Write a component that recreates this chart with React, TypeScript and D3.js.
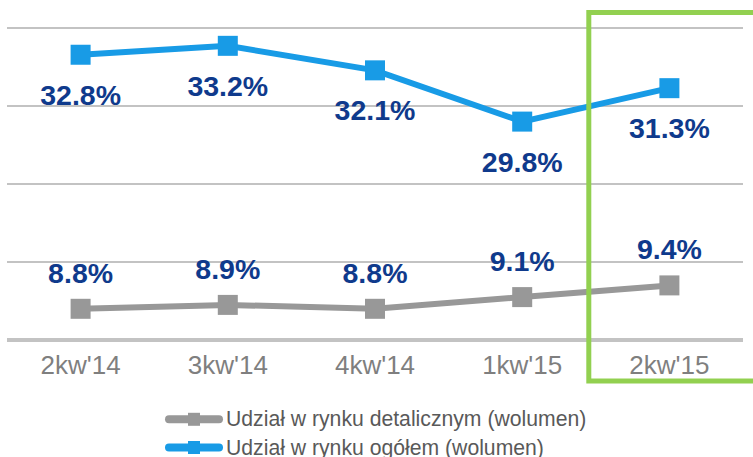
import React from "react";
import * as d3 from "d3";

const categories = ["2kw'14", "3kw'14", "4kw'14", "1kw'15", "2kw'15"];
const retailShare = [8.8, 8.9, 8.8, 9.1, 9.4];
const totalShare = [32.8, 33.2, 32.1, 29.8, 31.3];
const retailLabels = ["8.8%", "8.9%", "8.8%", "9.1%", "9.4%"];
const totalLabels = ["32.8%", "33.2%", "32.1%", "29.8%", "31.3%"];
const legendNames = [
  "Udział w rynku detalicznym (wolumen)",
  "Udział w rynku ogółem (wolumen)",
];
const highlighted = "2kw'15";

const W = 753;
const H = 457;
const FONT = "'Liberation Sans', Arial, sans-serif";
const BLUE = "#189be6";
const GRAY = "#989898";
const NAVY = "#0f3a8c";
const GREEN = "#92d050";

export default function App() {
  const x = d3.scaleBand<string>().domain(categories).range([7, 743]);
  const cx = (c: string) => (x(c) as number) + x.bandwidth() / 2;
  const yRetail = d3.scaleLinear().domain([8, 16]).range([340, 28]);
  const yTotal = d3.scaleLinear().domain([20, 34]).range([340, 28]);
  const grid = yRetail.ticks(4);

  const lineRetail = d3
    .line<number>()
    .x((_, i) => cx(categories[i]))
    .y((d) => yRetail(d));
  const lineTotal = d3
    .line<number>()
    .x((_, i) => cx(categories[i]))
    .y((d) => yTotal(d));

  const M = 20;
  const hx = x(highlighted) as number;

  return (
    <svg
      width={W}
      height={H}
      style={{ position: "absolute", left: 0, top: 0, background: "#fff" }}
      fontFamily={FONT}
    >
      {grid.map((t) => (
        <line
          key={t}
          x1={7}
          x2={743}
          y1={yRetail(t)}
          y2={yRetail(t)}
          stroke="#c3c3c3"
          strokeWidth={t === 8 ? 4 : 2}
        />
      ))}

      {categories.map((c) => (
        <text
          key={c}
          x={cx(c)}
          y={374}
          textAnchor="middle"
          fontSize={26}
          fill="#7f7f7f"
        >
          {c}
        </text>
      ))}

      <path d={lineRetail(retailShare) || ""} fill="none" stroke={GRAY} strokeWidth={6} />
      {retailShare.map((v, i) => (
        <rect
          key={i}
          x={cx(categories[i]) - M / 2}
          y={yRetail(v) - M / 2}
          width={M}
          height={M}
          fill={GRAY}
        />
      ))}
      <path d={lineTotal(totalShare) || ""} fill="none" stroke={BLUE} strokeWidth={6} />
      {totalShare.map((v, i) => (
        <rect
          key={i}
          x={cx(categories[i]) - M / 2}
          y={yTotal(v) - M / 2}
          width={M}
          height={M}
          fill={BLUE}
        />
      ))}

      {retailShare.map((v, i) => (
        <text
          key={i}
          x={cx(categories[i])}
          y={yRetail(v) - 26}
          textAnchor="middle"
          fontSize={28.5}
          fontWeight="bold"
          fill={NAVY}
        >
          {retailLabels[i]}
        </text>
      ))}
      {totalShare.map((v, i) => (
        <text
          key={i}
          x={cx(categories[i])}
          y={yTotal(v) + 50}
          textAnchor="middle"
          fontSize={28.5}
          fontWeight="bold"
          fill={NAVY}
        >
          {totalLabels[i]}
        </text>
      ))}

      <rect
        x={hx - 7}
        y={12.5}
        width={200}
        height={368.5}
        fill="none"
        stroke={GREEN}
        strokeWidth={5}
      />

      {legendNames.map((name, i) => {
        const ly = 419.3 + i * 28.2;
        const col = i === 0 ? GRAY : BLUE;
        return (
          <g key={name}>
            <line x1={169} x2={219} y1={ly} y2={ly} stroke={col} strokeWidth={8} strokeLinecap="round" />
            <rect x={188} y={ly - 6.5} width={12} height={13} fill={col} />
            <text x={226} y={ly + 7} fontSize={21.2} fill="#595959">
              {name}
            </text>
          </g>
        );
      })}
    </svg>
  );
}
